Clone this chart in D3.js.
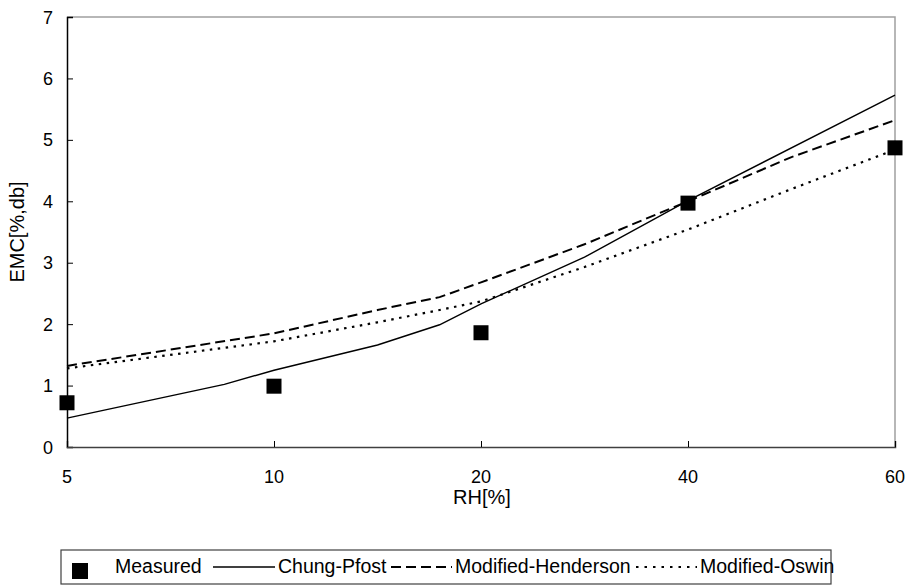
<!DOCTYPE html>
<html>
<head>
<meta charset="utf-8">
<script src="https://cdn.jsdelivr.net/npm/d3@7"></script>
<style>
  body { margin: 0; background: #fff; }
  text { font-family: "Liberation Sans", Arial, sans-serif; fill: #000; }
</style>
</head>
<body>
<div id="chart"></div>
<script>
// category ticks on the x axis (equally spaced, like an Excel line chart)
var rhTicks = [5, 10, 20, 40, 60];
var emcTicks = [0, 1, 2, 3, 4, 5, 6, 7];

// measured points
var measuredRH = [5, 10, 20, 40, 60];
var measuredEMC = [0.72, 0.99, 1.86, 3.97, 4.87];

// model curves
var chungRH = [5, 8.8, 10, 15, 18, 20, 30, 40, 60];
var chungEMC = [0.47, 1.02, 1.25, 1.66, 1.99, 2.33, 3.09, 4.01, 5.73];

var hendRH = [5, 10, 15, 18, 20, 30, 40, 50, 60];
var hendEMC = [1.32, 1.85, 2.23, 2.44, 2.68, 3.3, 4.0, 4.72, 5.32];

var oswinRH = [5, 10, 15, 18, 20, 30, 40, 50, 60];
var oswinEMC = [1.28, 1.72, 2.03, 2.23, 2.37, 2.93, 3.54, 4.2, 4.84];

var width = 912, height = 585;
var mLeft = 67, mRight = 895, mTop = 17, mBottom = 447;

var svg = d3.select("#chart").append("svg")
    .attr("width", width)
    .attr("height", height);

// polylinear scale: each category gets the same width
var x = d3.scaleLinear()
    .domain(rhTicks)
    .range(rhTicks.map(function(d, i) { return mLeft + i * (mRight - mLeft) / (rhTicks.length - 1); }));
var y = d3.scaleLinear().domain([0, 7]).range([mBottom, mTop]);

// plot frame (top / right in light gray)
svg.append("path")
    .attr("d", "M" + mLeft + "," + mTop + "H" + mRight + "V" + mBottom)
    .attr("fill", "none")
    .attr("stroke", "#a0a0a0")
    .attr("stroke-width", 1.5);

// y axis
var yAxis = svg.append("g")
    .attr("transform", "translate(" + mLeft + ",0)")
    .call(d3.axisRight(y).tickValues(emcTicks).tickSize(6).tickFormat(""));
yAxis.select(".domain").attr("stroke", "#000").attr("stroke-width", 1.5);
yAxis.selectAll(".tick line").attr("stroke", "#000");
svg.append("g").selectAll("text")
    .data(emcTicks).enter().append("text")
    .attr("x", mLeft - 14)
    .attr("y", function(d) { return y(d) + 6.5; })
    .attr("text-anchor", "end")
    .style("font-size", "18px")
    .text(function(d) { return d; });

// x axis
var xAxis = svg.append("g")
    .attr("transform", "translate(0," + mBottom + ")")
    .call(d3.axisTop(x).tickValues(rhTicks).tickSize(6).tickFormat(""));
xAxis.select(".domain").attr("stroke", "#404040").attr("stroke-width", 1.5);
xAxis.selectAll(".tick line").attr("stroke", "#000");
svg.append("g").selectAll("text")
    .data(rhTicks).enter().append("text")
    .attr("x", function(d) { return x(d); })
    .attr("y", mBottom + 36)
    .attr("text-anchor", "middle")
    .style("font-size", "18px")
    .text(function(d) { return d; });

// axis titles
svg.append("text")
    .attr("x", (mLeft + mRight) / 2 + 1)
    .attr("y", mBottom + 57)
    .attr("text-anchor", "middle")
    .style("font-size", "20px")
    .text("RH[%]");
svg.append("text")
    .attr("transform", "translate(24," + (mTop + mBottom) / 2 + ")rotate(-90)")
    .attr("text-anchor", "middle")
    .style("font-size", "20px")
    .text("EMC[%,db]");

var line = d3.line()
    .x(function(d) { return x(d[0]); })
    .y(function(d) { return y(d[1]); });

var series = [
  { rh: chungRH, emc: chungEMC, dash: null, w: 1.4 },
  { rh: hendRH, emc: hendEMC, dash: "10,5", w: 2 },
  { rh: oswinRH, emc: oswinEMC, dash: "2.5,5.5", w: 2.2 }
];

svg.append("g").selectAll("path")
    .data(series).enter().append("path")
    .attr("d", function(s) { return line(d3.zip(s.rh, s.emc)); })
    .attr("fill", "none")
    .attr("stroke", "#000")
    .attr("stroke-width", function(s) { return s.w; })
    .attr("stroke-dasharray", function(s) { return s.dash; });

// measured squares
var sq = 15;
svg.append("g").selectAll("rect")
    .data(d3.zip(measuredRH, measuredEMC)).enter().append("rect")
    .attr("x", function(d) { return x(d[0]) - sq / 2; })
    .attr("y", function(d) { return y(d[1]) - sq / 2; })
    .attr("width", sq)
    .attr("height", sq)
    .attr("fill", "#000");

// legend
var lg = svg.append("g");
lg.append("rect")
    .attr("x", 61).attr("y", 550)
    .attr("width", 770).attr("height", 34)
    .attr("fill", "#fff")
    .attr("stroke", "#404040")
    .attr("stroke-width", 1.2);

var ly = 567;
lg.append("rect").attr("x", 72).attr("y", 563).attr("width", 16).attr("height", 16).attr("fill", "#000");
lg.append("text").attr("x", 115).attr("y", 573).style("font-size", "19.5px").text("Measured");

var legendLines = [
  { x1: 213, x2: 275, dash: null, w: 1.4, tx: 278, label: "Chung-Pfost" },
  { x1: 391, x2: 452, dash: "10,5", w: 2, tx: 455, label: "Modified-Henderson" },
  { x1: 636, x2: 697, dash: "2.5,6", w: 2.2, tx: 700, label: "Modified-Oswin" }
];
legendLines.forEach(function(l) {
  lg.append("line")
      .attr("x1", l.x1).attr("x2", l.x2)
      .attr("y1", ly).attr("y2", ly)
      .attr("stroke", "#000")
      .attr("stroke-width", l.w)
      .attr("stroke-dasharray", l.dash);
  lg.append("text").attr("x", l.tx).attr("y", 573).style("font-size", "19.5px").text(l.label);
});
</script>
</body>
</html>
